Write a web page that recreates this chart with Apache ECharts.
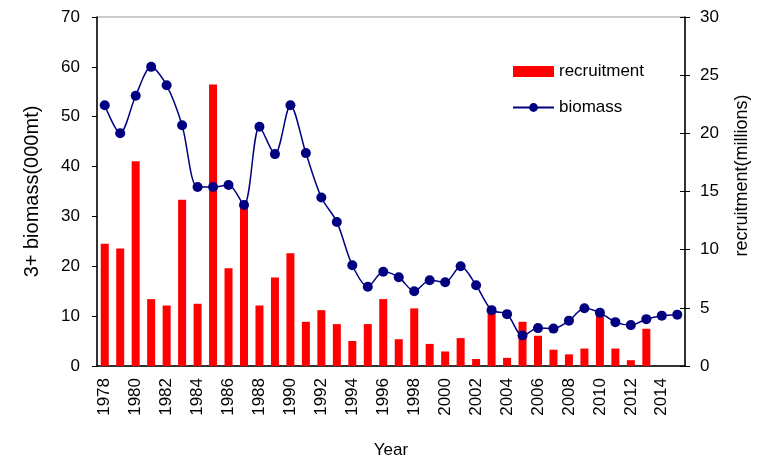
<!DOCTYPE html>
<html>
<head>
    <meta charset="utf-8">
    <title>Recruitment and biomass</title>
    <script src="https://cdnjs.cloudflare.com/ajax/libs/echarts/6.0.0/echarts.min.js"></script>
    <style>
        html, body { margin: 0; padding: 0; background: #fff; }
        #chart { width: 759px; height: 461px; }
    </style>
</head>
<body>
    <div id="chart"></div>
    <script>
        var years = [];
        for (var y = 1978; y <= 2015; y++) years.push(String(y));

        // 3+ biomass (000mt), left axis
        var biomass = [52.3, 46.7, 54.2, 60.0, 56.3, 48.3, 35.9, 35.9, 36.3, 32.3,
            48.0, 42.5, 52.3, 42.7, 33.8, 28.9, 20.2, 15.9, 18.9, 17.8,
            15.0, 17.2, 16.8, 20.0, 16.2, 11.2, 10.4, 6.1, 7.6, 7.5,
            9.1, 11.6, 10.7, 8.8, 8.2, 9.4, 10.1, 10.3];

        // recruitment (millions), right axis
        var recruitment = [10.5, 10.1, 17.6, 5.75, 5.2, 14.3, 5.35, 24.2, 8.4, 14.2,
            5.2, 7.6, 9.7, 3.8, 4.8, 3.6, 2.15, 3.6, 5.75, 2.3,
            4.95, 1.9, 1.25, 2.4, 0.6, 4.7, 0.7, 3.8, 2.6, 1.4,
            1.0, 1.5, 4.5, 1.5, 0.5, 3.2, null, null];

        var font = 'Liberation Sans, Arial, sans-serif';
        var chart = echarts.init(document.getElementById('chart'));

        chart.setOption({
            animation: false,
            textStyle: { fontFamily: font, color: '#000' },
            grid: {
                left: 97, right: 74, top: 17, bottom: 95,
                containLabel: false,
                outerBoundsMode: 'none',
                show: true, borderColor: '#999', borderWidth: 1
            },
            legend: {
                orient: 'vertical',
                left: 507, top: 58,
                itemWidth: 41, itemHeight: 11,
                itemGap: 19,
                textStyle: { fontSize: 17, color: '#000', fontFamily: font },
                data: [{ name: 'recruitment', icon: 'rect' }, { name: 'biomass' }]
            },
            xAxis: {
                type: 'category',
                data: years,
                boundaryGap: true,
                name: 'Year',
                nameLocation: 'middle',
                nameGap: 76,
                nameTextStyle: { fontSize: 17, color: '#000' },
                axisLine: { lineStyle: { color: '#000', width: 1.5 } },
                axisTick: { interval: 0, length: 6, lineStyle: { color: '#000' } },
                axisLabel: { interval: 1, rotate: 90, fontSize: 17, color: '#000', margin: 12 },
                splitLine: { show: false }
            },
            yAxis: [{
                type: 'value',
                min: 0, max: 70, interval: 10,
                name: '3+ biomass(000mt)',
                nameLocation: 'middle',
                nameGap: 55,
                nameTextStyle: { fontSize: 20, color: '#000' },
                axisLine: { show: true, lineStyle: { color: '#000', width: 1.5 } },
                axisTick: { show: true, length: 5, lineStyle: { color: '#000' } },
                axisLabel: { fontSize: 17, color: '#000', margin: 17 },
                splitLine: { show: false }
            }, {
                type: 'value',
                position: 'right',
                min: 0, max: 30, interval: 5,
                name: 'recruitment(millions)',
                nameLocation: 'middle',
                nameRotate: 90,
                nameGap: 48,
                nameTextStyle: { fontSize: 18, color: '#000', padding: [0, 0, 0, 32] },
                axisLine: { show: true, lineStyle: { color: '#000', width: 1.5 } },
                axisTick: { show: true, length: 5, lineStyle: { color: '#000' } },
                axisLabel: { fontSize: 17, color: '#000', margin: 15 },
                splitLine: { show: false }
            }, {
                // inner half of the crossing ticks on the right axis
                type: 'value',
                position: 'right',
                min: 0, max: 30, interval: 5,
                axisLine: { show: false },
                axisTick: { show: true, inside: true, length: 5, lineStyle: { color: '#000' } },
                axisLabel: { show: false },
                splitLine: { show: false }
            }],
            series: [{
                name: 'recruitment',
                type: 'bar',
                yAxisIndex: 1,
                data: recruitment,
                barWidth: 8,
                itemStyle: { color: '#ff0000' }
            }, {
                name: 'biomass',
                type: 'line',
                yAxisIndex: 0,
                data: biomass,
                smooth: 0.3,
                symbol: 'circle',
                symbolSize: 10,
                lineStyle: { color: '#000080', width: 1.5 },
                itemStyle: { color: '#000080' }
            }]
        });
    </script>
</body>
</html>
